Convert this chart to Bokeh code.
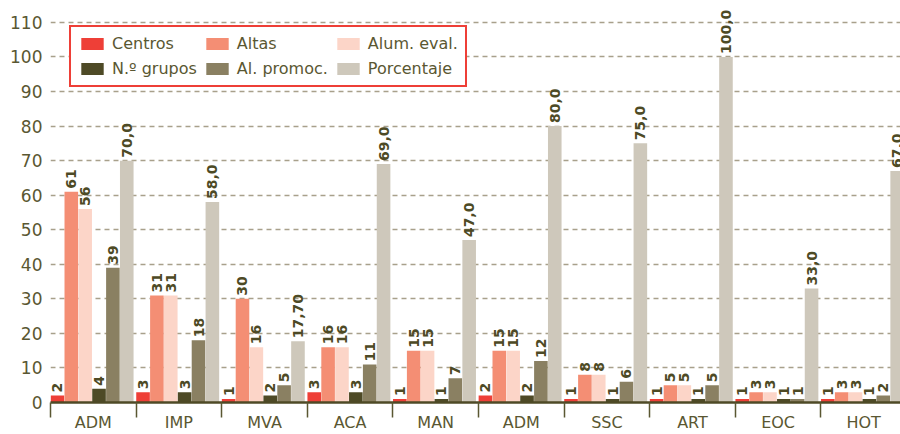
import numpy as np
from bokeh.plotting import figure
from bokeh.models import ColumnDataSource, Range1d, FixedTicker, Legend, LegendItem
from bokeh.transform import dodge
from bokeh.core.properties import value
from bokeh.embed import file_html
from bokeh.resources import INLINE

# ---- data ----
categories = ["ADM", "IMP", "MVA", "ACA", "MAN", "ADM", "SSC", "ART", "EOC", "HOT"]
centros = [2, 3, 1, 3, 1, 2, 1, 1, 1, 1]
altas = [61, 31, 30, 16, 15, 15, 8, 5, 3, 3]
alum_eval = [56, 31, 16, 16, 15, 15, 8, 5, 3, 3]
n_grupos = [4, 3, 2, 3, 1, 2, 1, 1, 1, 1]
al_promoc = [39, 18, 5, 11, 7, 12, 6, 5, 1, 2]
porcentaje = [70.0, 58.0, 17.70, 69.0, 47.0, 80.0, 75.0, 100.0, 33.0, 67.0]
porcentaje_labels = ["70,0", "58,0", "17,70", "69,0", "47,0", "80,0", "75,0", "100,0", "33,0", "67,0"]
y_ticks = list(range(0, 111, 10))

series_names = ["Centros", "Altas", "Alum. eval.", "N.º grupos", "Al. promoc.", "Porcentaje"]
series_vals = [centros, altas, alum_eval, n_grupos, al_promoc, porcentaje]
series_labels = [[str(v) for v in centros], [str(v) for v in altas], [str(v) for v in alum_eval],
                 [str(v) for v in n_grupos], [str(v) for v in al_promoc], porcentaje_labels]
colors = ["#EE3F37", "#F48E74", "#FCD5C8", "#4E4A26", "#8A8062", "#CEC8BB"]

TXT = "#4D4A25"
TICK = "#5A5732"
FONT = "DejaVu Sans"

n = len(categories)
xc = np.arange(n) + 0.5

p = figure(width=900, height=434, output_backend="svg", toolbar_location=None,
           x_range=Range1d(0, 9.93), y_range=Range1d(0, 116.35),
           min_border_left=50, min_border_right=0, min_border_top=0, min_border_bottom=0)
p.outline_line_color = None
p.background_fill_color = "white"

src = {"x": xc}
for j, (vals, labs) in enumerate(zip(series_vals, series_labels)):
    src[f"v{j}"] = vals
    src[f"l{j}"] = labs
source = ColumnDataSource(src)

bw = 0.162
renderers = []
for j in range(6):
    off = (j + 0.5) * bw - 0.5
    r = p.vbar(x=dodge("x", off, range=p.x_range), top=f"v{j}", width=bw * 0.98,
               bottom=0, source=source, fill_color=colors[j], line_color=None)
    renderers.append(r)
    p.text(x=dodge("x", off, range=p.x_range), y=f"v{j}", text=f"l{j}", source=source,
           angle=np.pi / 2, text_align="left", text_baseline="middle", y_offset=-3,
           text_font=value(FONT), text_font_style="bold", text_font_size="14px",
           text_color=TXT)

# y axis
p.yaxis.ticker = FixedTicker(ticks=y_ticks)
p.yaxis.axis_line_color = None
p.yaxis.major_tick_line_color = None
p.yaxis.minor_tick_line_color = None
p.yaxis.major_tick_out = 0
p.yaxis.major_label_standoff = 8
p.yaxis.major_label_text_font = FONT
p.yaxis.major_label_text_font_size = "17px"
p.yaxis.major_label_text_color = TICK

p.ygrid.ticker = FixedTicker(ticks=y_ticks[1:])
p.ygrid.grid_line_color = "#A8A08B"
p.ygrid.grid_line_dash = "5 4"
p.ygrid.grid_line_width = 1.3
p.xgrid.grid_line_color = None

# x axis: labels at centers, tick marks at group boundaries
p.xaxis.ticker = FixedTicker(ticks=list(xc), minor_ticks=list(range(n + 1)))
p.xaxis.major_label_overrides = {float(x): c for x, c in zip(xc, categories)}
p.xaxis.major_tick_line_color = None
p.xaxis.major_tick_out = 0
p.xaxis.major_tick_in = 0
p.xaxis.minor_tick_out = 15
p.xaxis.minor_tick_in = 0
p.xaxis.minor_tick_line_color = "#5A5732"
p.xaxis.minor_tick_line_width = 1.5
p.xaxis.axis_line_color = "#4E4A26"
p.xaxis.axis_line_width = 2.5
p.xaxis.major_label_standoff = -5
p.xaxis.major_label_text_font = FONT
p.xaxis.major_label_text_font_size = "16px"
p.xaxis.major_label_text_color = TICK

legend = Legend(items=[LegendItem(label=nm, renderers=[r]) for nm, r in zip(series_names, renderers)],
                orientation="horizontal", ncols=3, location=(19, 315), margin=0,
                padding=7, spacing=6, glyph_width=28, glyph_height=15, label_standoff=6,
                label_height=16, label_text_font=FONT, label_text_font_size="16px",
                label_text_color=TICK, border_line_color="#EE3F37", border_line_width=2,
                border_line_alpha=1.0,
                background_fill_color="white", background_fill_alpha=1.0)
p.add_layout(legend)

open("out.html", "w").write(file_html(p, INLINE))
